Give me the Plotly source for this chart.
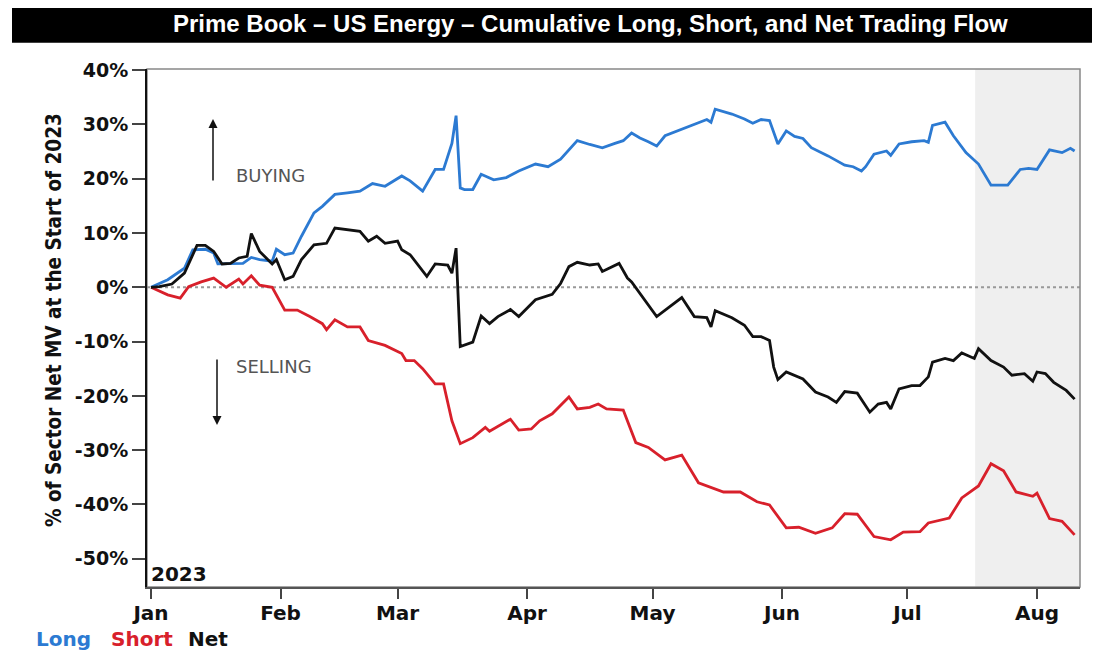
import plotly.graph_objects as go

# Werte (% des Sektor-Netto-MV zum Jahresbeginn 2023)
long_dates = [
    "2023-01-01", "2023-01-05", "2023-01-09", "2023-01-11", "2023-01-14", "2023-01-16",
    "2023-01-17", "2023-01-20", "2023-01-23", "2023-01-25", "2023-01-27", "2023-01-30",
    "2023-01-31", "2023-02-02", "2023-02-04", "2023-02-06", "2023-02-09", "2023-02-11",
    "2023-02-14", "2023-02-17", "2023-02-20", "2023-02-23", "2023-02-26", "2023-03-02",
    "2023-03-04", "2023-03-07", "2023-03-10", "2023-03-12", "2023-03-14", "2023-03-15",
    "2023-03-16", "2023-03-17", "2023-03-19", "2023-03-21", "2023-03-24", "2023-03-27",
    "2023-03-30", "2023-04-03", "2023-04-06", "2023-04-09", "2023-04-13", "2023-04-16",
    "2023-04-19", "2023-04-22", "2023-04-24", "2023-04-26", "2023-04-28", "2023-04-30",
    "2023-05-02", "2023-05-04", "2023-05-08", "2023-05-11", "2023-05-14", "2023-05-15",
    "2023-05-16", "2023-05-20", "2023-05-23", "2023-05-25", "2023-05-27", "2023-05-29",
    "2023-05-31", "2023-06-02", "2023-06-04", "2023-06-06", "2023-06-08", "2023-06-12",
    "2023-06-16", "2023-06-18", "2023-06-20", "2023-06-21", "2023-06-23", "2023-06-26",
    "2023-06-27", "2023-06-29", "2023-07-02", "2023-07-05", "2023-07-06", "2023-07-07",
    "2023-07-10", "2023-07-12", "2023-07-15", "2023-07-18", "2023-07-21", "2023-07-25",
    "2023-07-28", "2023-07-30", "2023-08-01", "2023-08-04", "2023-08-07", "2023-08-09",
    "2023-08-10",
]
long_vals = [
    0.0, 1.4, 3.5, 6.9, 7.0, 6.3,
    4.3, 4.3, 4.4, 5.5, 5.1, 4.8,
    7.0, 6.0, 6.3, 9.4, 13.7, 14.9,
    17.1, 17.4, 17.7, 19.1, 18.6, 20.5,
    19.6, 17.7, 21.7, 21.7, 26.5, 31.6,
    18.3, 18.0, 18.0, 20.8, 19.8, 20.2,
    21.4, 22.7, 22.2, 23.6, 27.0, 26.3,
    25.7, 26.5, 27.0, 28.4, 27.5, 26.8,
    26.0, 27.9, 29.1, 30.0, 30.9, 30.4,
    32.8, 31.9, 31.0, 30.2, 30.9, 30.7,
    26.4, 28.8, 27.8, 27.4, 25.7, 24.2,
    22.5, 22.2, 21.4, 22.2, 24.5, 25.1,
    24.3, 26.4, 26.8, 27.0, 26.7, 29.8,
    30.4, 27.9, 24.8, 22.7, 18.8, 18.8,
    21.7, 21.9, 21.7, 25.3, 24.8, 25.6,
    25.1,
]

short_dates = [
    "2023-01-01", "2023-01-05", "2023-01-08", "2023-01-10", "2023-01-13", "2023-01-16",
    "2023-01-19", "2023-01-22", "2023-01-23", "2023-01-25", "2023-01-27", "2023-01-30",
    "2023-02-02", "2023-02-05", "2023-02-08", "2023-02-11", "2023-02-12", "2023-02-14",
    "2023-02-17", "2023-02-20", "2023-02-22", "2023-02-26", "2023-03-02", "2023-03-03",
    "2023-03-05", "2023-03-07", "2023-03-10", "2023-03-12", "2023-03-14", "2023-03-16",
    "2023-03-19", "2023-03-22", "2023-03-23", "2023-03-28", "2023-03-30", "2023-04-02",
    "2023-04-04", "2023-04-07", "2023-04-11", "2023-04-13", "2023-04-16", "2023-04-18",
    "2023-04-20", "2023-04-24", "2023-04-27", "2023-04-30", "2023-05-04", "2023-05-08",
    "2023-05-12", "2023-05-15", "2023-05-18", "2023-05-22", "2023-05-26", "2023-05-29",
    "2023-06-02", "2023-06-05", "2023-06-09", "2023-06-13", "2023-06-16", "2023-06-19",
    "2023-06-23", "2023-06-27", "2023-06-30", "2023-07-04", "2023-07-06", "2023-07-11",
    "2023-07-14", "2023-07-18", "2023-07-21", "2023-07-24", "2023-07-27", "2023-07-31",
    "2023-08-01", "2023-08-04", "2023-08-07", "2023-08-10",
]
short_vals = [
    0.0, -1.4, -2.0, 0.1, 1.0, 1.7,
    0.0, 1.5, 0.6, 2.1, 0.4, 0.0,
    -4.2, -4.2, -5.4, -6.7, -7.8, -6.0,
    -7.3, -7.3, -9.8, -10.7, -12.2, -13.5,
    -13.5, -15.0, -17.8, -17.8, -24.6, -28.8,
    -27.7, -25.8, -26.5, -24.3, -26.3, -26.1,
    -24.6, -23.3, -20.2, -22.4, -22.1, -21.5,
    -22.4, -22.6, -28.6, -29.5, -31.8, -30.9,
    -36.0, -36.8, -37.7, -37.7, -39.5, -40.1,
    -44.3, -44.2, -45.3, -44.3, -41.7, -41.8,
    -45.9, -46.5, -45.1, -45.0, -43.4, -42.5,
    -38.8, -36.6, -32.5, -33.8, -37.7, -38.5,
    -37.9, -42.6, -43.1, -45.6,
]

net_dates = [
    "2023-01-01", "2023-01-03", "2023-01-06", "2023-01-09", "2023-01-12", "2023-01-14",
    "2023-01-16", "2023-01-18", "2023-01-20", "2023-01-22", "2023-01-24", "2023-01-25",
    "2023-01-27", "2023-01-29", "2023-01-30", "2023-01-31", "2023-02-02", "2023-02-04",
    "2023-02-06", "2023-02-09", "2023-02-12", "2023-02-14", "2023-02-18", "2023-02-20",
    "2023-02-22", "2023-02-24", "2023-02-26", "2023-03-01", "2023-03-02", "2023-03-04",
    "2023-03-08", "2023-03-10", "2023-03-13", "2023-03-14", "2023-03-15", "2023-03-16",
    "2023-03-19", "2023-03-21", "2023-03-23", "2023-03-25", "2023-03-28", "2023-03-30",
    "2023-04-03", "2023-04-07", "2023-04-09", "2023-04-11", "2023-04-13", "2023-04-16",
    "2023-04-18", "2023-04-19", "2023-04-23", "2023-04-25", "2023-04-26", "2023-04-29",
    "2023-05-02", "2023-05-08", "2023-05-11", "2023-05-14", "2023-05-15", "2023-05-16",
    "2023-05-20", "2023-05-23", "2023-05-25", "2023-05-27", "2023-05-29", "2023-05-30",
    "2023-05-31", "2023-06-02", "2023-06-06", "2023-06-09", "2023-06-12", "2023-06-14",
    "2023-06-16", "2023-06-19", "2023-06-22", "2023-06-24", "2023-06-26", "2023-06-27",
    "2023-06-29", "2023-07-02", "2023-07-04", "2023-07-06", "2023-07-07", "2023-07-10",
    "2023-07-12", "2023-07-14", "2023-07-17", "2023-07-18", "2023-07-21", "2023-07-24",
    "2023-07-26", "2023-07-29", "2023-07-31", "2023-08-01", "2023-08-03", "2023-08-05",
    "2023-08-08", "2023-08-10",
]
net_vals = [
    0.0, 0.1, 0.6, 2.6, 7.7, 7.7,
    6.6, 4.3, 4.4, 5.4, 5.7, 9.9,
    6.6, 5.1, 4.3, 5.1, 1.4, 2.0,
    5.1, 7.8, 8.1, 10.9, 10.5, 10.3,
    8.5, 9.4, 8.1, 8.5, 6.9, 6.0,
    2.0, 4.3, 4.1, 2.6, 7.2, -10.9,
    -10.1, -5.3, -6.7, -5.4, -4.1, -5.4,
    -2.3, -1.3, 0.7, 3.8, 4.6, 4.1,
    4.3, 2.9, 4.4, 1.7, 1.0, -2.2,
    -5.4, -1.9, -5.4, -5.6, -7.3, -4.3,
    -5.6, -7.0, -9.1, -9.1, -9.8, -14.7,
    -17.0, -15.6, -16.9, -19.3, -20.2, -21.2,
    -19.2, -19.5, -23.0, -21.5, -21.2, -22.4,
    -18.7, -18.1, -18.1, -16.5, -13.8, -13.1,
    -13.5, -12.1, -13.1, -11.3, -13.5, -14.7,
    -16.2, -15.9, -17.3, -15.6, -15.9, -17.5,
    -19.0, -20.6,
]

month_ticks = ["2023-01-01", "2023-02-01", "2023-03-01", "2023-04-01",
               "2023-05-01", "2023-06-01", "2023-07-01", "2023-08-01"]
month_labels = ["Jan", "Feb", "Mar", "Apr", "May", "Jun", "Jul", "Aug"]
y_ticks = [40, 30, 20, 10, 0, -10, -20, -30, -40, -50]
y_labels = ["40%", "30%", "20%", "10%", "0%", "-10%", "-20%", "-30%", "-40%", "-50%"]

shade_start = "2023-07-17 05:00"

BLUE = "#2c7ad2"
RED = "#d8202b"
BLACK = "#111111"
bold_font = "DejaVu Sans"

# Plotfläche 933 x 518 px; Positionen unten als Anteil der Plotfläche
PW, PH = 933, 518
def px_x(px):
    return (px - 147) / PW
def px_y(py):
    return (587 - py) / PH

fig = go.Figure()
fig.add_trace(go.Scatter(x=long_dates, y=long_vals, mode="lines", name="Long",
                         line=dict(color=BLUE, width=2.8)))
fig.add_trace(go.Scatter(x=short_dates, y=short_vals, mode="lines", name="Short",
                         line=dict(color=RED, width=2.8)))
fig.add_trace(go.Scatter(x=net_dates, y=net_vals, mode="lines", name="Net",
                         line=dict(color=BLACK, width=2.8)))

x_range = ["2022-12-31 01:00", "2023-08-11 07:00"]

# Seite hat 8px Rand, daher 1092 x 650
fig.update_layout(
    width=1092, height=650,
    margin=dict(l=139, r=20, t=61, b=71, autoexpand=False),
    paper_bgcolor="white", plot_bgcolor="white",
    showlegend=False,
    xaxis=dict(
        type="date", range=x_range,
        tickvals=month_ticks, ticktext=month_labels,
        ticks="outside", ticklen=10, tickwidth=2, tickcolor="#444",
        ticklabelstandoff=-3,
        showline=True, linecolor="#555", linewidth=2,
        showgrid=False, zeroline=False,
        tickfont=dict(family=bold_font, size=20, color="#111", weight="bold"),
    ),
    yaxis=dict(
        range=[-55.2, 40.2],
        tickvals=y_ticks, ticktext=y_labels,
        ticks="outside", ticklen=13, tickwidth=1.5, tickcolor="#444",
        showline=True, linecolor="#111", linewidth=2,
        showgrid=False, zeroline=False,
        tickfont=dict(family=bold_font, size=19, color="#111", weight="bold"),
    ),
)

# Grauer Bereich, Nulllinie und Rahmen
fig.add_shape(type="rect", xref="x", yref="paper", x0=shade_start, x1=x_range[1],
              y0=0, y1=1, fillcolor="#efefef", line=dict(width=0), layer="below")
fig.add_shape(type="line", xref="paper", yref="y", x0=0, x1=1, y0=0, y1=0,
              line=dict(color="#999", width=2, dash="dot"), layer="below")
fig.add_shape(type="rect", xref="paper", yref="paper", x0=0, x1=1, y0=0, y1=1,
              line=dict(color="#888", width=1.5), layer="below")

# Titelbalken
fig.add_shape(type="rect", xref="paper", yref="paper", x0=px_x(12), x1=px_x(1092),
              y0=px_y(42.7), y1=px_y(4.7), fillcolor="black", line=dict(width=0))
fig.add_annotation(xref="paper", yref="paper", x=px_x(590), y=px_y(23.5),
                   xanchor="center", yanchor="middle", showarrow=False,
                   text="Prime Book – US Energy – Cumulative Long, Short, and Net Trading Flow",
                   font=dict(family="Liberation Sans", size=24, color="white", weight="bold"))

# y-Achsentitel
fig.add_annotation(xref="paper", yref="paper", x=px_x(54), y=px_y(320),
                   xanchor="center", yanchor="middle", showarrow=False,
                   textangle=-90, text="% of Sector Net MV at the Start of 2023",
                   font=dict(family="Liberation Sans Narrow, DejaVu Sans Condensed, Liberation Sans",
                             size=20.5, color="#111", weight="bold"))

# BUYING / SELLING mit Pfeilen
fig.add_annotation(xref="paper", yref="paper", x=px_x(213), y=px_y(119), ax=0, ay=63,
                   text="", showarrow=True, arrowhead=2, arrowsize=1.2, arrowwidth=1.5,
                   arrowcolor="#111")
fig.add_annotation(xref="paper", yref="paper", x=px_x(217), y=px_y(425), ax=0, ay=-67,
                   text="", showarrow=True, arrowhead=2, arrowsize=1.2, arrowwidth=1.5,
                   arrowcolor="#111")
fig.add_annotation(xref="paper", yref="paper", x=px_x(234), y=px_y(175),
                   xanchor="left", yanchor="middle", showarrow=False, text="BUYING",
                   font=dict(family="DejaVu Sans", size=18, color="#555"))
fig.add_annotation(xref="paper", yref="paper", x=px_x(234), y=px_y(366),
                   xanchor="left", yanchor="middle", showarrow=False, text="SELLING",
                   font=dict(family="DejaVu Sans", size=18, color="#555"))

# Jahr unten links
fig.add_annotation(xref="paper", yref="paper", x=px_x(149), y=px_y(574),
                   xanchor="left", yanchor="middle", showarrow=False, text="2023",
                   font=dict(family=bold_font, size=20, color="#111", weight="bold"))

# Legende als farbiger Text
legend_items = [("Long", BLUE, 34), ("Short", RED, 109), ("Net", BLACK, 186)]
for label, color, px in legend_items:
    fig.add_annotation(xref="paper", yref="paper", x=px_x(px), y=px_y(639),
                       xanchor="left", yanchor="middle", showarrow=False, text=label,
                       font=dict(family=bold_font, size=20, color=color, weight="bold"))

fig.write_html("out.html")
